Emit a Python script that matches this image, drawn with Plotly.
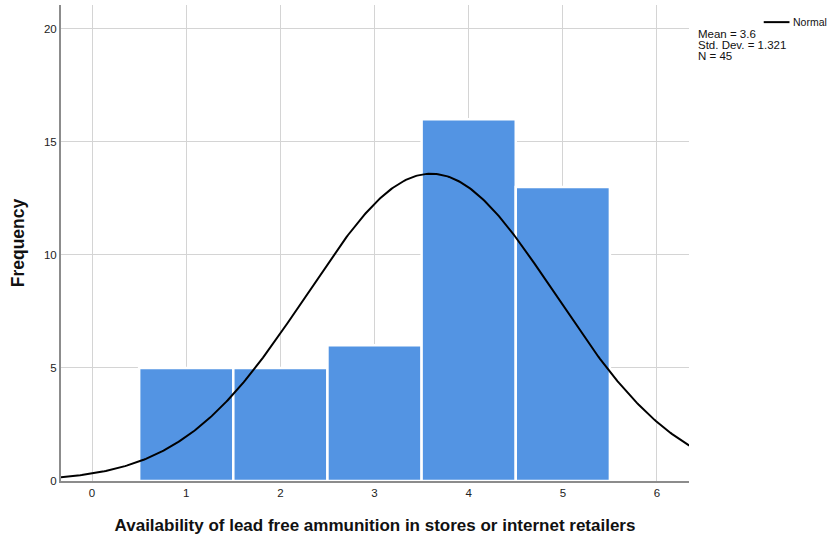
import numpy as np
import plotly.graph_objects as go

categories = [1, 2, 3, 4, 5]
frequencies = [5, 5, 6, 16, 13]
mean_val = 3.6
std_dev = 1.321
n_total = 45
bin_width = 1.0

x_curve = np.linspace(-0.4, 6.4, 400)
y_curve = n_total * bin_width / (std_dev * np.sqrt(2 * np.pi)) * np.exp(-0.5 * ((x_curve - mean_val) / std_dev) ** 2)

fig = go.Figure()
fig.add_trace(go.Bar(x=categories, y=frequencies, width=1.0,
                     marker=dict(color="#5394E3", line=dict(color="white", width=2.5)),
                     showlegend=False, hoverinfo="x+y"))
fig.add_trace(go.Scatter(x=x_curve, y=y_curve, mode="lines",
                         line=dict(color="black", width=2), name="Normal", showlegend=False))

font = "Arial, Liberation Sans, sans-serif"
fig.update_layout(
    width=829, height=541,
    margin=dict(l=61, r=140, t=5, b=60),
    paper_bgcolor="white", plot_bgcolor="white",
    font=dict(family=font, size=11.5, color="#222"),
    xaxis=dict(range=[-0.33, 6.34], tickvals=[0, 1, 2, 3, 4, 5, 6], showgrid=True,
               gridcolor="#d4d4d4", gridwidth=1, zeroline=False, showline=True,
               linecolor="#8c8c8c", linewidth=2, ticks="", ticklen=0,
               title=dict(text="<b>Availability of lead free ammunition in stores or internet retailers</b>",
                          font=dict(size=17, family=font, color="#111"), standoff=21)),
    yaxis=dict(range=[0, 21.05], tickvals=[0, 5, 10, 15, 20], showgrid=True,
               gridcolor="#d4d4d4", gridwidth=1, zeroline=False, showline=True,
               linecolor="#8c8c8c", linewidth=2, ticks="", ticklen=0,
               title=dict(text="<b>Frequency</b>", font=dict(size=17.5, family=font, color="#111"), standoff=15)),
)

fig.add_shape(type="line", xref="paper", yref="paper", x0=1.119, x1=1.1600, y0=0.964, y1=0.964,
              line=dict(color="black", width=2))
fig.add_annotation(xref="paper", yref="paper", x=1.1625, y=0.964, text="Normal", showarrow=False,
                   xanchor="left", yanchor="middle", font=dict(size=10.5, family=font, color="#111"))
stats_lines = [f"Mean = {mean_val}", f"Std. Dev. = {std_dev}", f"N = {n_total}"]
for i, line in enumerate(stats_lines):
    fig.add_annotation(xref="paper", yref="paper", x=1.0115, y=0.939 - i * 0.0231, text=line,
                       showarrow=False, xanchor="left", yanchor="middle", align="left",
                       font=dict(size=11.5, family=font, color="#111"))

fig.write_html("out.html", post_script="document.body.style.margin='0';",
               config={"displayModeBar": False})
